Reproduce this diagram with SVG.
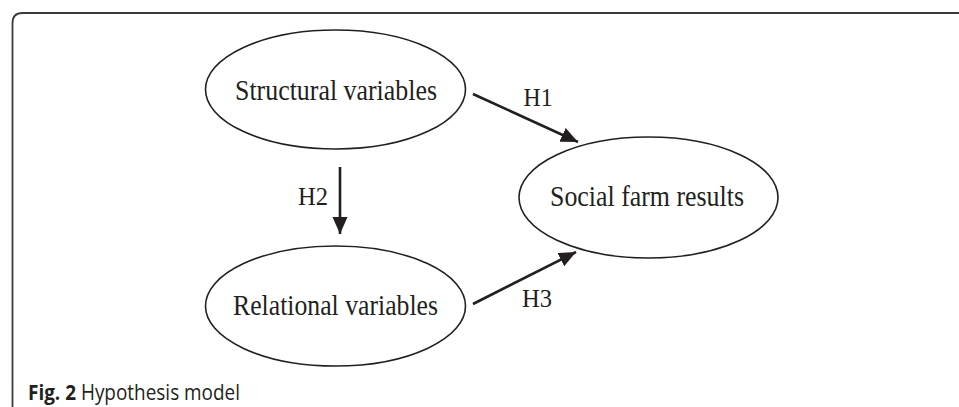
<svg xmlns="http://www.w3.org/2000/svg" width="959" height="407" viewBox="0 0 959 407">
  <style>
    .node ellipse { fill: #ffffff; stroke: #231f20; stroke-width: 1.6; }
    .label { font-family: "Liberation Serif", "Times New Roman", serif; font-size: 29px; fill: #231f20; text-anchor: middle; }
    .hlab { font-family: "Liberation Serif", "Times New Roman", serif; font-size: 26px; fill: #231f20; text-anchor: middle; }
    .conn { stroke: #231f20; stroke-width: 2.6; fill: none; marker-end: url(#head); }
    .frame { fill: none; stroke: #3a3a3a; stroke-width: 1.8; }
    .cap { font-family: "Open Sans", "Liberation Sans", sans-serif; font-size: 21px; fill: #231f20; }
  </style>
  <defs>
    <marker id="head" markerUnits="userSpaceOnUse" markerWidth="18" markerHeight="16" refX="17" refY="7.5" orient="auto">
      <path d="M0,0 L17,7.5 L0,15 Z" fill="#231f20"/>
    </marker>
  </defs>
  <rect width="959" height="407" fill="#ffffff"/>
  <path class="frame" d="M12.5,420 L12.5,23 Q12.5,13 22.5,13 L975,13"/>

  <g id="connectors">
    <line class="conn" x1="473" y1="94" x2="578" y2="142"/>
    <line class="conn" x1="340" y1="167" x2="340" y2="234"/>
    <line class="conn" x1="473" y1="304" x2="576" y2="252"/>
    <text class="hlab" x="538" y="106" textLength="29" lengthAdjust="spacingAndGlyphs">H1</text>
    <text class="hlab" x="313" y="205" textLength="30" lengthAdjust="spacingAndGlyphs">H2</text>
    <text class="hlab" x="537" y="307" textLength="30" lengthAdjust="spacingAndGlyphs">H3</text>
  </g>

  <g id="structural" class="node">
    <ellipse cx="335.5" cy="89.5" rx="130" ry="59.5"/>
    <text class="label" x="336" y="100" textLength="202" lengthAdjust="spacingAndGlyphs">Structural variables</text>
  </g>
  <g id="social" class="node">
    <ellipse cx="648.5" cy="197.5" rx="129.5" ry="60.5"/>
    <text class="label" x="647" y="206" textLength="194" lengthAdjust="spacingAndGlyphs">Social farm results</text>
  </g>
  <g id="relational" class="node">
    <ellipse cx="335.5" cy="306" rx="130" ry="60"/>
    <text class="label" x="335.5" y="315" textLength="205" lengthAdjust="spacingAndGlyphs">Relational variables</text>
  </g>

  <text class="cap" x="28" y="400" textLength="212" lengthAdjust="spacingAndGlyphs"><tspan font-weight="bold">Fig. 2</tspan> Hypothesis model</text>
</svg>
